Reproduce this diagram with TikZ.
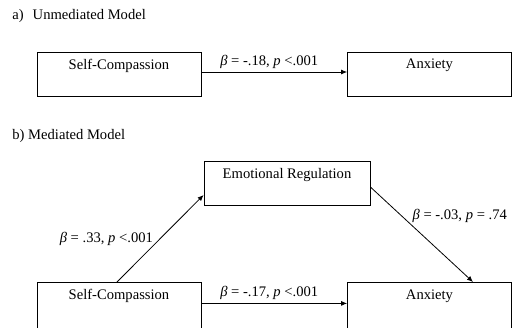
\documentclass[tikz,border=0pt]{standalone}
\usepackage{fontspec}
\setmainfont{Liberation Serif}
\usetikzlibrary{arrows.meta}

\begin{document}
\begin{tikzpicture}[x=1pt, y=-1pt, line width=0.8pt,
    font=\fontsize{14.6pt}{17pt}\selectfont,
    box/.style={draw, minimum width=164pt, minimum height=44pt, inner sep=0pt},
    tallbox/.style={box, minimum height=52pt, anchor=north},
    boxtext/.style={label={[anchor=north, inner sep=0pt, yshift=-7pt]north:#1}},
    title/.style={anchor=base west, inner sep=0pt},
    coef/.style={inner sep=1pt},
    arr/.style={-{Latex[length=6pt, width=5pt]}}]
    \useasboundingbox (0,0) rectangle (513,327);
    \clip (0,0) rectangle (513,327);

    \node (titlea) at (12,19) [title]{a)\hspace{9pt}Unmediated Model};
    \node (sca) at (119,74) [box, boxtext=Self-Compassion]{};
    \node (anxa) at (429.5,74) [box, boxtext=Anxiety]{};
    \draw[arr] ([yshift=2pt]sca.east) -- node[coef, above=2pt, xshift=-5pt]{\textit{β} = -.18, \textit{p} <.001} ([yshift=2pt]anxa.west);

    \node (titleb) at (12,139) [title]{b) Mediated Model};
    \node (er) at (287,183) [box, minimum width=166pt, boxtext=Emotional Regulation]{};
    \node (scb) at (119,282) [tallbox, boxtext=Self-Compassion]{};
    \node (anxb) at (429.5,282) [tallbox, boxtext=Anxiety]{};
    \draw[arr] ([xshift=-2pt]scb.north) -- node[coef, pos=0.5, left=6pt]{\textit{β} = .33, \textit{p} <.001} ([yshift=-12pt]er.west);
    \draw[arr] ([yshift=-4pt]er.east) -- node[coef, pos=0.3, right=10pt]{\textit{β} = -.03, \textit{p} = .74} ([xshift=43.5pt]anxb.north);
    \draw[arr] ([yshift=5pt]scb.east) -- node[coef, above=2pt, xshift=-5pt]{\textit{β} = -.17, \textit{p} <.001} ([yshift=5pt]anxb.west);
\end{tikzpicture}
\end{document}
